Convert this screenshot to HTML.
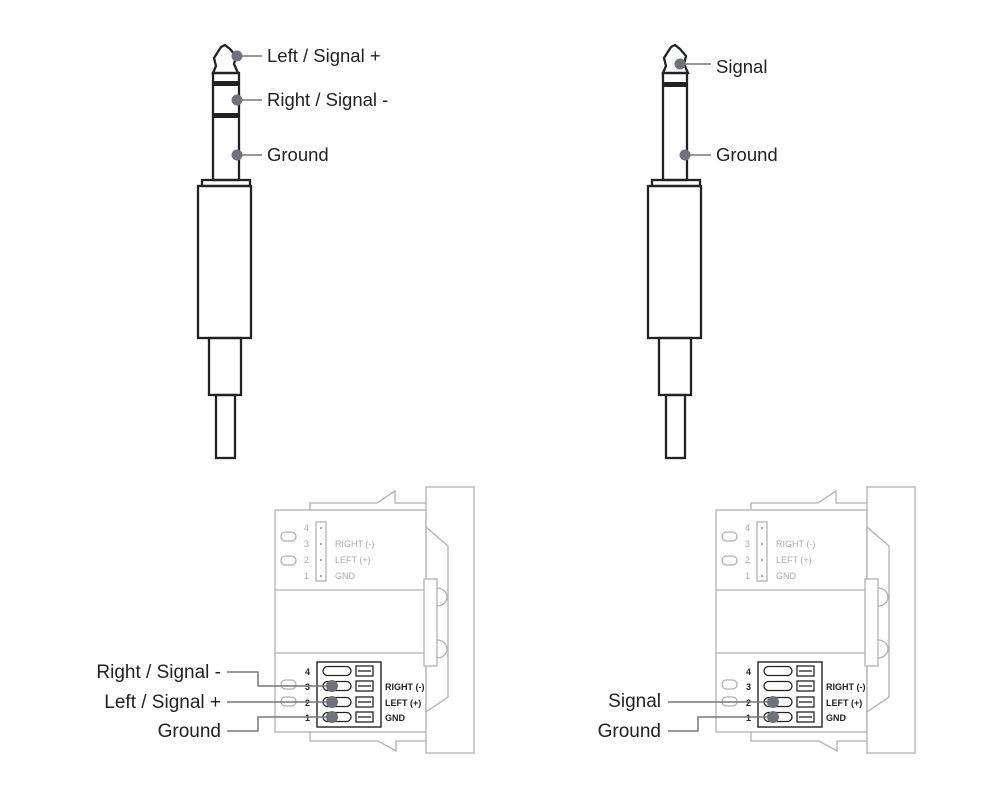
<!DOCTYPE html>
<html><head><meta charset="utf-8"><style>
html,body{margin:0;padding:0;background:#fff;}
svg{display:block;}
text{font-family:"Liberation Sans",sans-serif;}
</style></head><body>
<svg width="1000" height="800" viewBox="0 0 1000 800" xmlns="http://www.w3.org/2000/svg">
<defs>
<g id="module">
  <g fill="none" stroke="#b0b0b0" stroke-width="1.3">
    <path d="M310 510 L310 503 L377 503 L395 491 L395 503 L426 503"/>
    <rect x="275" y="510" width="151" height="222" fill="#fff"/>
    <line x1="275" y1="590" x2="426" y2="590"/>
    <line x1="275" y1="653" x2="426" y2="653"/>
    <path d="M310 732 L310 741 L378 741 L396 751 L396 741 L426 741"/>
    <rect x="426" y="487" width="48" height="266" fill="#fff"/>
    <path d="M426 527 L448 546 L448 697 L426 712"/>
    <rect x="424" y="579" width="13" height="87" fill="#fff"/>
    <path d="M437 588 A10 9 0 0 1 437 606"/>
    <path d="M437 640 A10 9 0 0 1 437 658"/>
    <rect x="316" y="522" width="10" height="59"/>
    <rect x="281" y="532" width="15" height="9" rx="4.5"/>
    <rect x="281" y="556" width="15" height="9" rx="4.5"/>
    <rect x="281" y="680" width="15" height="9" rx="4.5"/>
    <rect x="281" y="697" width="15" height="9" rx="4.5"/>
  </g>
  <g fill="#aaa"><rect x="320" y="527" width="2" height="2"/><rect x="320" y="543" width="2" height="2"/><rect x="320" y="559" width="2" height="2"/><rect x="320" y="575" width="2" height="2"/></g>
  <g font-size="9" fill="#aaa">
    <text x="304" y="531">4</text><text x="304" y="547">3</text><text x="304" y="563">2</text><text x="304" y="579">1</text>
    <text x="335" y="547">RIGHT (-)</text><text x="335" y="563">LEFT (+)</text><text x="335" y="579">GND</text>
  </g>
  <rect x="317" y="662" width="64" height="65" fill="#fff" stroke="#222" stroke-width="1.4"/>
  <g fill="none" stroke="#222" stroke-width="1.3">
    <rect x="323" y="666.5" width="28" height="9" rx="4.5"/>
    <rect x="323" y="681.5" width="28" height="9" rx="4.5"/>
    <rect x="323" y="697.5" width="28" height="9" rx="4.5"/>
    <rect x="323" y="712.5" width="28" height="9" rx="4.5"/>
    <rect x="356" y="666" width="17" height="10"/><line x1="358" y1="671" x2="371" y2="671"/>
    <rect x="356" y="681" width="17" height="10"/><line x1="358" y1="686" x2="371" y2="686"/>
    <rect x="356" y="697" width="17" height="10"/><line x1="358" y1="702" x2="371" y2="702"/>
    <rect x="356" y="712" width="17" height="10"/><line x1="358" y1="717" x2="371" y2="717"/>
  </g>
  <g font-size="9" font-weight="bold" fill="#222">
    <text x="305" y="675">4</text><text x="305" y="690">3</text><text x="305" y="706">2</text><text x="305" y="721">1</text>
    <text x="385" y="690">RIGHT (-)</text><text x="385" y="706">LEFT (+)</text><text x="385" y="721">GND</text>
  </g>
</g>
</defs>

<!-- Left plug -->
<g fill="none" stroke="#222" stroke-width="2.3">
  <path d="M213 73 L216 66 L214 58 L221 47 L225 45 L230 49 L236 56 L234 64 L238 73 Z"/>
  <rect x="213" y="73" width="26" height="107"/>
  <rect x="202" y="180" width="48" height="6"/>
  <rect x="198" y="186" width="53" height="152"/>
  <rect x="209" y="338" width="32" height="57"/>
  <rect x="216" y="395" width="19" height="63"/>
</g>
<rect x="213" y="81" width="26" height="5" fill="#222"/>
<rect x="213" y="113" width="26" height="5" fill="#222"/>
<g stroke="#777" stroke-width="1.5"><line x1="237" y1="56" x2="262" y2="56"/><line x1="237" y1="100" x2="262" y2="100"/><line x1="237" y1="155" x2="262" y2="155"/></g>
<g fill="#6d7378"><circle cx="237" cy="56" r="5.5"/><circle cx="237" cy="100" r="5.5"/><circle cx="237" cy="155" r="5.5"/></g>
<g font-size="18.5" fill="#222">
  <text x="267" y="62">Left / Signal +</text>
  <text x="267" y="106">Right / Signal -</text>
  <text x="267" y="161">Ground</text>
</g>

<!-- Right plug -->
<g fill="none" stroke="#222" stroke-width="2.3">
  <path d="M663 73 L666 66 L664 58 L671 47 L675 45 L680 49 L686 56 L684 64 L688 73 Z"/>
  <rect x="663" y="73" width="24" height="107"/>
  <rect x="652" y="180" width="48" height="6"/>
  <rect x="648" y="186" width="53" height="152"/>
  <rect x="659" y="338" width="32" height="57"/>
  <rect x="666" y="395" width="19" height="63"/>
</g>
<rect x="663" y="82" width="24" height="5" fill="#222"/>
<g stroke="#777" stroke-width="1.5"><line x1="680" y1="64" x2="711" y2="64"/><line x1="685" y1="155" x2="711" y2="155"/></g>
<g fill="#6d7378"><circle cx="680" cy="64" r="5.5"/><circle cx="685" cy="155" r="5.5"/></g>
<g font-size="18.5" fill="#222">
  <text x="716" y="73">Signal</text>
  <text x="716" y="161">Ground</text>
</g>

<!-- Modules -->
<use href="#module"/>
<use href="#module" transform="translate(441,0)"/>

<!-- Left module wiring -->
<g fill="none" stroke="#777" stroke-width="1.5">
  <path d="M227 672 L258 672 L258 686 L332 686"/>
  <path d="M227 702 L332 702"/>
  <path d="M227 731 L258 731 L258 717 L332 717"/>
</g>
<g fill="#6d7378"><circle cx="332" cy="686" r="6"/><circle cx="332" cy="702" r="6"/><circle cx="332" cy="717" r="6"/></g>
<g font-size="19" fill="#222" text-anchor="end">
  <text x="221" y="678">Right / Signal -</text>
  <text x="221" y="708">Left / Signal +</text>
  <text x="221" y="737">Ground</text>
</g>

<!-- Right module wiring -->
<g fill="none" stroke="#777" stroke-width="1.5">
  <path d="M668 702 L773 702"/>
  <path d="M668 731 L698 731 L698 717 L773 717"/>
</g>
<g fill="#6d7378"><circle cx="773" cy="702" r="6"/><circle cx="773" cy="717" r="6"/></g>
<g font-size="19" fill="#222" text-anchor="end">
  <text x="661" y="707">Signal</text>
  <text x="661" y="737">Ground</text>
</g>
</svg>
</body></html>
